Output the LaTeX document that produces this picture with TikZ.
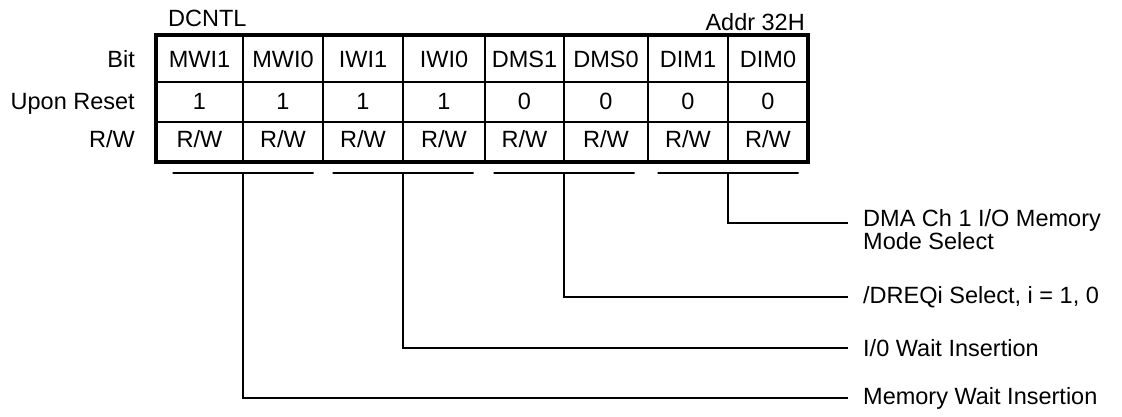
\documentclass[tikz,border=0pt]{standalone}
\usepackage{fontspec}
\setmainfont{Liberation Sans}
\begin{document}
\begin{tikzpicture}[x=1pt,y=-1pt,
  every node/.style={font=\fontsize{23.5}{22.5}\selectfont,inner sep=0pt},
  cell/.style={anchor=base},
  rowlbl/.style={anchor=base east},
  field/.style={draw,line width=1.5pt,minimum width=141pt,minimum height=0pt},
  conn/.style={line width=1.7pt},
  desc/.style={anchor=base west,align=left}]
\useasboundingbox (0,0) rectangle (1122,417);
% register grid
\draw[line width=2.5pt] (156,82) -- (808,82);
\draw[line width=2.5pt] (156,122) -- (808,122);
\foreach \x in {243,323,403,485,564,648,728}
  \draw[line width=2.5pt] (\x,35) -- (\x,162);
\draw[line width=3.5pt] (156,35) rectangle (808,162);
\node[anchor=base west] (reg) at (168,27) {DCNTL};
\node[anchor=base east] (addr) at (805,31) {Addr 32H};
\node[rowlbl] (bitlbl) at (135,68) {Bit};
\node[rowlbl] (rstlbl) at (135,110) {Upon Reset};
\node[rowlbl] (rwlbl) at (135,148) {R/W};
% bit cells
\foreach \i/\x/\lbl/\rst in {7/199.5/MWI1/1,6/283/MWI0/1,5/363/IWI1/1,4/444/IWI0/1,
                              3/524.5/DMS1/0,2/606/DMS0/0,1/688/DIM1/0,0/768/DIM0/0} {
  \node[cell] (b\i) at (\x,68) {\lbl};
  \node[cell] (r\i) at (\x,110) {\rst};
  \node[cell] (w\i) at (\x,148) {R/W};
}
% bit fields
\node[field] (fmwi) at (243,173) {};
\node[field] (fiwi) at (403,173) {};
\node[field] (fdms) at (564,173) {};
\node[field] (fdim) at (728,173) {};
\coordinate (edim) at (848,223);
\coordinate (edms) at (848,297);
\coordinate (eiwi) at (848,348);
\coordinate (emwi) at (848,398);
\draw[conn] (fdim.south) |- (edim);
\draw[conn] (fdms.south) |- (edms);
\draw[conn] (fiwi.south) |- (eiwi);
\draw[conn] (fmwi.south) |- (emwi);
\node[desc] (ldim) at (863,249) {DMA Ch 1 I/O Memory\\Mode Select};
\node[anchor=west] (ldms) at ([xshift=15pt]edms) {/DREQi Select, i = 1, 0};
\node[anchor=west] (liwi) at ([xshift=15pt]eiwi) {I/0 Wait Insertion};
\node[anchor=west] (lmwi) at ([xshift=15pt]emwi) {Memory Wait Insertion};
\end{tikzpicture}
\end{document}
